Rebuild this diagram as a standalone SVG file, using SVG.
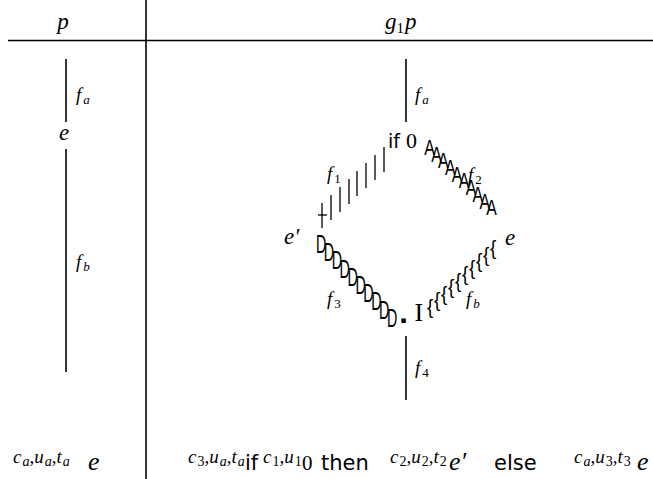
<svg xmlns="http://www.w3.org/2000/svg" width="653" height="479" viewBox="0 0 653 479">
<style>
.ln{stroke:#000;stroke-width:1.6;fill:none}
.bar{stroke:#000;stroke-width:1.3;fill:none}
.m{font-family:"Liberation Serif",serif;font-style:italic;fill:#000}
.r{font-family:"Liberation Serif",serif;font-style:normal;fill:#000}
.s{font-family:"DejaVu Sans",sans-serif;font-style:normal;fill:#000}
.g{font-family:"Liberation Sans",sans-serif;fill:#000}
.big{font-size:23px}
.lab{font-size:19px}
.sub{font-size:13px}
.sup{font-size:19px}
.ss{font-size:14px}
.bot{font-size:26px}
.bs{font-size:21px}
</style>
<rect width="653" height="479" fill="#fff"/>
<g id="table">
<line class="ln" x1="8" y1="40.5" x2="653" y2="40.5"/>
<line class="ln" x1="146" y1="0" x2="146" y2="479"/>
<text class="m big" x="63" y="29" text-anchor="middle">p</text>
<text class="m big" x="385" y="29">g<tspan class="r" font-size="15" dy="4">1</tspan><tspan dy="-4" dx="1">p</tspan></text>
</g>
<g id="connectors">
<line class="ln" x1="66" y1="59" x2="66" y2="122"/>
<line class="ln" x1="66" y1="149" x2="66" y2="372"/>
<line class="ln" x1="406" y1="59" x2="406" y2="122"/>
<line class="ln" x1="406" y1="336" x2="406" y2="400"/>
<g class="bar">
<line x1="322" y1="203" x2="322" y2="228"/>
<line x1="318" y1="215" x2="327" y2="215"/>
<line x1="331" y1="195" x2="331" y2="220"/>
<line x1="340" y1="187" x2="340" y2="212"/>
<line x1="349" y1="179" x2="349" y2="204"/>
<line x1="357" y1="171" x2="357" y2="196"/>
<line x1="366" y1="163" x2="366" y2="188"/>
<line x1="375" y1="155" x2="375" y2="180"/>
<line x1="384" y1="147" x2="384" y2="172"/>
</g>
<text class="g" font-size="22" transform="matrix(0.72,0,0,1,0,0)"><tspan x="589.3" y="155">A</tspan><tspan x="598.9" y="161.7">A</tspan><tspan x="608.4" y="168.4">A</tspan><tspan x="618" y="175.1">A</tspan><tspan x="627.6" y="181.8">A</tspan><tspan x="637.2" y="188.5">A</tspan><tspan x="646.8" y="195.2">A</tspan><tspan x="656.4" y="201.9">A</tspan><tspan x="665.9" y="208.6">A</tspan><tspan x="675.5" y="215.3">A</tspan></text>
<text class="g" font-size="26" transform="matrix(0.55,0,0,1,0,0)"><tspan x="574.4" y="253">D</tspan><tspan x="588.7" y="261.2">D</tspan><tspan x="603.1" y="269.4">D</tspan><tspan x="617.5" y="277.6">D</tspan><tspan x="631.8" y="285.8">D</tspan><tspan x="646.2" y="294">D</tspan><tspan x="660.5" y="302.2">D</tspan><tspan x="674.9" y="310.4">D</tspan><tspan x="689.3" y="318.6">D</tspan><tspan x="703.6" y="326.8">D</tspan></text>
<text class="s" font-size="9" x="400.5" y="323">▪</text>
<text class="r" font-size="26" x="414.5" y="321">I</text>
<text class="g" font-size="20" transform="matrix(0.95,0,0,1,0,0)"><tspan x="449.5" y="314">{</tspan><tspan x="456.8" y="307.5">{</tspan><tspan x="464.2" y="301">{</tspan><tspan x="471.6" y="294.5">{</tspan><tspan x="478.9" y="288">{</tspan><tspan x="486.3" y="281.5">{</tspan><tspan x="493.7" y="275">{</tspan><tspan x="501.1" y="268.5">{</tspan><tspan x="508.4" y="262">{</tspan><tspan x="515.8" y="255.5">{</tspan></text>
</g>
<g id="labels">
<text class="m lab" x="76" y="101">f<tspan class="sub" dy="3" dx="2">a</tspan></text>
<text class="m lab" x="76" y="268">f<tspan class="sub" dy="3" dx="2">b</tspan></text>
<text class="m lab" x="415" y="101">f<tspan class="sub" dy="3" dx="2">a</tspan></text>
<text class="m lab" x="327" y="180">f<tspan class="r sub" dy="3" dx="2">1</tspan></text>
<text class="m lab" x="468" y="181">f<tspan class="r sub" dy="3" dx="2">2</tspan></text>
<text class="m lab" x="327" y="305">f<tspan class="r sub" dy="3" dx="2">3</tspan></text>
<text class="m lab" x="466" y="305">f<tspan class="sub" dy="3" dx="2">b</tspan></text>
<text class="m lab" x="415" y="374">f<tspan class="r sub" dy="3" dx="2">4</tspan></text>
</g>
<g id="node-e-left"><text class="m big" x="64" y="140" text-anchor="middle">e</text></g>
<g id="node-if"><text class="s" font-size="19" x="388" y="148">if <tspan class="r" font-size="22">0</tspan></text></g>
<g id="node-eprime"><text class="m big" x="284" y="244">e′</text></g>
<g id="node-e-right"><text class="m big" x="505" y="245">e</text></g>
<g id="bottom-left"><text class="m sup" x="13" y="463">c<tspan class="ss" dy="3" dx="1">a</tspan><tspan dy="-3">,u</tspan><tspan class="ss" dy="3" dx="1">a</tspan><tspan dy="-3">,t</tspan><tspan class="ss" dy="3" dx="1">a</tspan></text><text class="m bot" x="88" y="470">e</text></g>
<g id="bottom-right">
<text class="m sup" x="188" y="463">c<tspan class="r ss" dy="3" dx="1">3</tspan><tspan dy="-3">,u</tspan><tspan class="ss" dy="3" dx="1">a</tspan><tspan dy="-3">,t</tspan><tspan class="ss" dy="3" dx="1">a</tspan></text>
<text class="s bs" x="245" y="470">if</text>
<text class="m sup" x="263" y="463">c<tspan class="r ss" dy="3" dx="1">1</tspan><tspan dy="-3">,u</tspan><tspan class="r ss" dy="3" dx="1">1</tspan></text>
<text class="r bs" x="302" y="470">0</text>
<text class="s bs" x="321" y="470">then</text>
<text class="m sup" x="390" y="463">c<tspan class="r ss" dy="3" dx="1">2</tspan><tspan dy="-3">,u</tspan><tspan class="r ss" dy="3" dx="1">2</tspan><tspan dy="-3">,t</tspan><tspan class="r ss" dy="3" dx="1">2</tspan></text>
<text class="m bot" x="449" y="470">e′</text>
<text class="s bs" x="494" y="470">else</text>
<text class="m sup" x="574" y="463">c<tspan class="ss" dy="3" dx="1">a</tspan><tspan dy="-3">,u</tspan><tspan class="r ss" dy="3" dx="1">3</tspan><tspan dy="-3">,t</tspan><tspan class="r ss" dy="3" dx="1">3</tspan></text>
<text class="m bot" x="637" y="470">e</text>
</g>
</svg>
